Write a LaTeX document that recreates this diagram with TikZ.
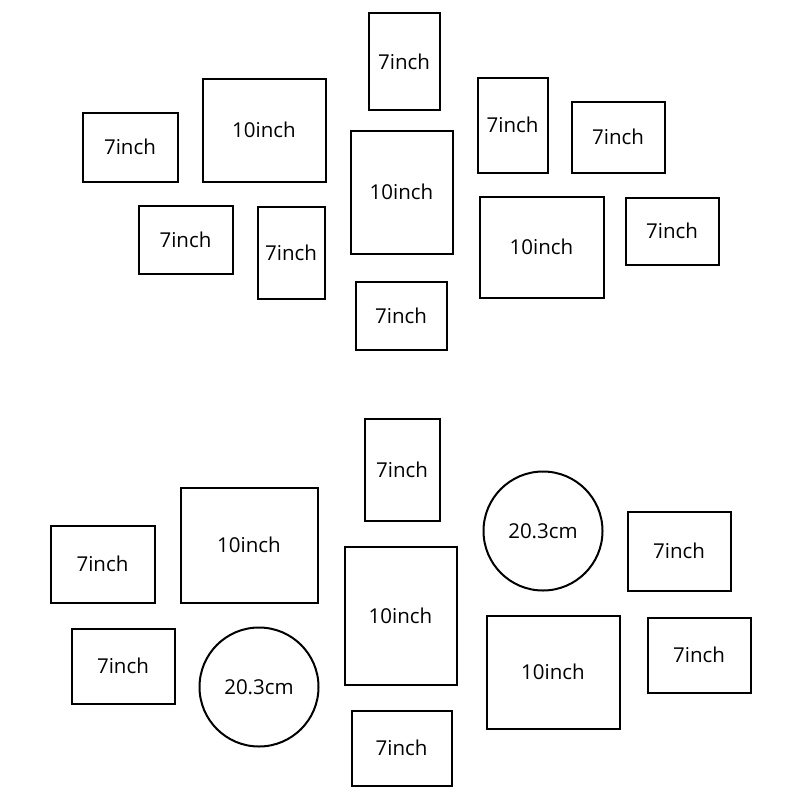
\documentclass[tikz,border=0pt]{standalone}
\usepackage{fontspec}
\setmainfont{Open Sans}
\usepackage{tikz}

\begin{document}
\begin{tikzpicture}[x=1pt,y=-1pt]
	\tikzstyle{frame} = [rectangle, draw, line width=2pt, inner sep=0pt, font=\fontsize{20.5}{24}\selectfont];
	\tikzstyle{disc} = [circle, draw, line width=2pt, inner sep=0pt, minimum size=119pt, font=\fontsize{20.5}{24}\selectfont];
	
	\useasboundingbox (0,0) rectangle (800,800);
	
	% upper wall
	\node[frame, minimum width=71pt, minimum height=96pt] (u1) at (404,61.5) {7inch};
	\node[frame, minimum width=123pt, minimum height=103pt] (u2) at (264,130) {10inch};
	\node[frame, minimum width=95pt, minimum height=69pt] (u3) at (130,147) {7inch};
	\node[frame, minimum width=70pt, minimum height=95pt] (u4) at (512.5,125) {7inch};
	\node[frame, minimum width=93pt, minimum height=71pt] (u5) at (618,137) {7inch};
	\node[frame, minimum width=102pt, minimum height=123pt] (u6) at (401.5,192) {10inch};
	\node[frame, minimum width=94pt, minimum height=68pt] (u7) at (185.5,239.5) {7inch};
	\node[frame, minimum width=67pt, minimum height=92pt] (u8) at (291,252.5) {7inch};
	\node[frame, minimum width=124pt, minimum height=101pt] (u9) at (541.5,247) {10inch};
	\node[frame, minimum width=93pt, minimum height=67pt] (u10) at (672,231) {7inch};
	\node[frame, minimum width=91pt, minimum height=68pt] (u11) at (401,315.5) {7inch};
	
	% lower wall
	\node[frame, minimum width=75pt, minimum height=102pt] (l1) at (402,469.5) {7inch};
	\node[frame, minimum width=137pt, minimum height=115pt] (l2) at (249,545) {10inch};
	\node[frame, minimum width=104pt, minimum height=77pt] (l3) at (102.5,564) {7inch};
	\node[disc] (l4) at (543,531) {20.3cm};
	\node[frame, minimum width=103pt, minimum height=79pt] (l5) at (679,551) {7inch};
	\node[frame, minimum width=112pt, minimum height=138pt] (l6) at (400.5,615.5) {10inch};
	\node[frame, minimum width=103pt, minimum height=75pt] (l7) at (123,666) {7inch};
	\node[disc] (l8) at (259,687) {20.3cm};
	\node[frame, minimum width=133pt, minimum height=113pt] (l9) at (553,672) {10inch};
	\node[frame, minimum width=103pt, minimum height=75pt] (l10) at (699,655) {7inch};
	\node[frame, minimum width=100pt, minimum height=75pt] (l11) at (401.5,748) {7inch};
\end{tikzpicture}
\end{document}
